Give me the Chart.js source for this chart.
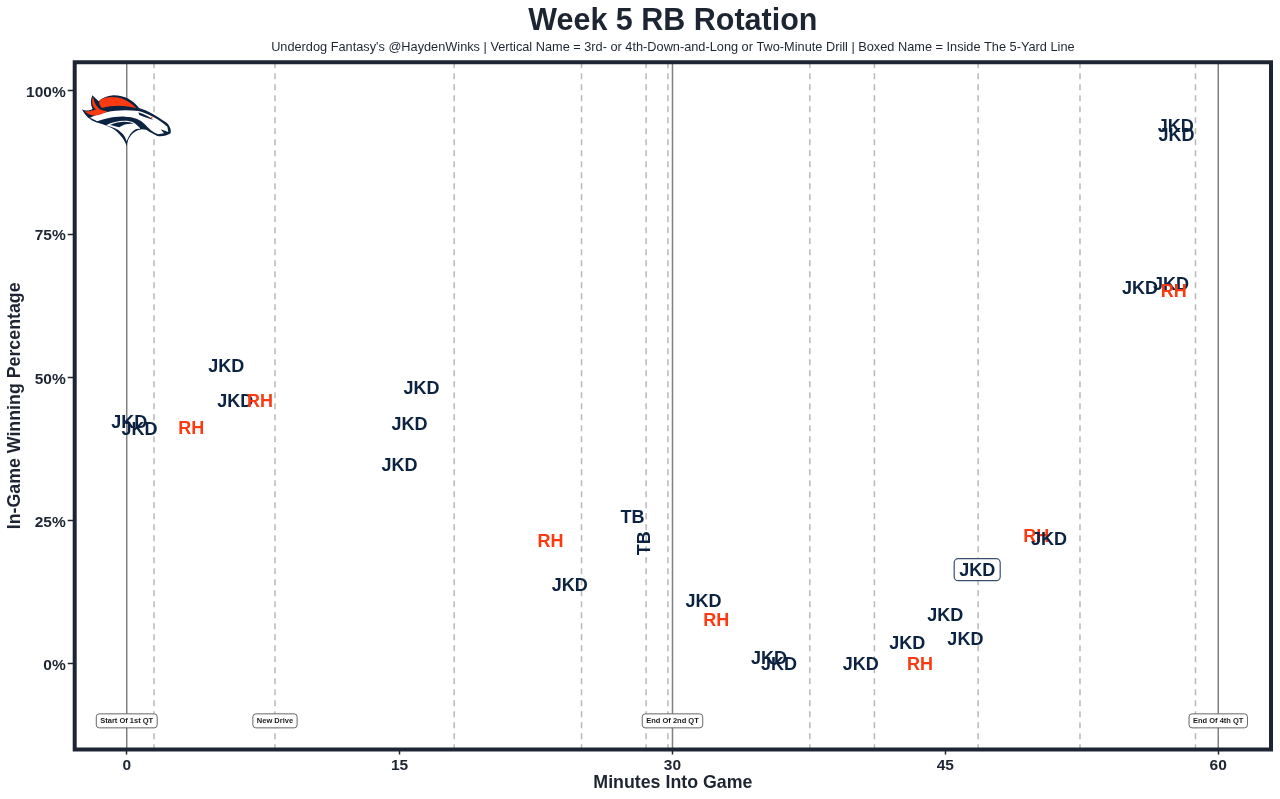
<!DOCTYPE html>
<html>
<head>
<meta charset="utf-8">
<title>Week 5 RB Rotation</title>
<script src="https://cdn.jsdelivr.net/npm/chart.js@4"></script>
<style>
  html, body { margin: 0; padding: 0; background: #fff; }
  canvas { display: block; }
</style>
</head>
<body>
<canvas id="grafico" width="1280" height="799"></canvas>
<script>
// one entry per carry
const rushers = ["JKD","JKD","RH","JKD","JKD","RH","JKD","JKD","JKD","RH","TB","TB","JKD","JKD","RH","JKD","JKD","JKD","JKD","RH","JKD","JKD","JKD","RH","JKD","JKD","JKD","RH","JKD","JKD"];
const minutes = [0.14,0.7,3.55,5.47,5.96,7.33,16.2,15.55,15,23.3,27.8,28.4,24.35,31.7,32.4,35.3,35.85,40.35,42.9,43.6,45,46.1,46.75,50,50.7,55.7,57.4,57.55,57.66,57.7];
const winPct = [42.3,41.1,41.3,52.1,46,46,48.25,42,34.8,21.5,25.7,21,13.8,11,7.7,1,0,0,3.7,0,8.6,4.4,16.4,22.4,21.9,65.7,66.3,65.2,93.9,92.4];
const verticalNames = [11]; // 3rd/4th and long or two-minute drill
const boxedNames = [22];    // inside the 5

const driveStarts = [1.5,8.15,18,25,28.55,29.75,37.55,41.1,46.8,52.4,58.75];
const quarterLines = [0,30,60];
const noteTexts = ["Start Of 1st QT","New Drive","End Of 2nd QT","End Of 4th QT"];
const noteMinutes = [0,8.15,30,60];
const noteLevel = -10;

const xTicks = [0,15,30,45,60];
const yTicks = [0,25,50,75,100];

const colores = { JKD: "#0b2241", TB: "#0b2241", RH: "#fb3a12" };
const INK = "#1e2532";
const FUENTE = '"Liberation Sans", Arial, sans-serif';

const puntos = minutes.map((m, i) => ({ x: m, y: winPct[i] }));

// Broncos logo, hand traced
function dibujarLogo(ctx) {
    ctx.save();
    ctx.translate(70, 80);
    ctx.scale(1/3, 1/3);
    ctx.fillStyle = "#0b2241";
    ctx.fill(new Path2D("M36 88C46 108 60 120 78 127C105 135 132 142 150 165C162 178 167 188 170 199C172 180 180 165 195 155C205 148 218 145 230 150C240 157 250 162 262 168C275 170 290 168 302 160C304 150 300 136 288 127C262 110 236 92 207 84C190 62 165 46 130 46C110 48 96 54 86 64L67 46C61 60 61 75 68 87C55 93 45 93 36 88Z"));
    ctx.fillStyle = "#fff";
    // neck sweep and face
    ctx.fill(new Path2D("M60 113C100 94 150 86 205 93C228 98 262 114 292 140L295 156L272 148L282 160L264 163C248 156 236 146 226 134C212 118 190 110 165 110C130 108 100 118 82 124Z"));
    // under neck
    ctx.fill(new Path2D("M108 136C135 122 170 118 192 128C205 138 218 150 205 146C190 146 178 163 170 184C165 165 150 146 108 136Z"));
    ctx.fillStyle = "#0b2241";
    ctx.fill(new Path2D("M120 135C145 124 175 122 192 132C180 130 160 132 148 142C140 140 130 137 120 135Z"));
    ctx.fill(new Path2D("M205 97C222 102 238 110 250 120C235 115 220 110 208 105Z"));
    ctx.fillStyle = "#fb3a12";
    ctx.fill(new Path2D("M90 60C110 48 160 42 199 85C170 76 130 74 96 84C88 76 85 68 90 60Z"));
    ctx.fill(new Path2D("M69 50C63 66 67 80 78 88C66 93 56 95 44 94C58 108 80 114 112 94C100 92 88 90 84 82C76 76 72 64 69 50Z"));
    ctx.beginPath();
    ctx.arc(245, 113, 2.5, 0, Math.PI * 2);
    ctx.fill();
    ctx.restore();
}

const marcas = {
    id: "marcas",
    beforeDatasetsDraw(chart) {
        const { ctx, chartArea, scales } = chart;
        ctx.save();
        ctx.lineWidth = 1.5;
        ctx.strokeStyle = "#b8b8b8";
        ctx.setLineDash([6, 5]);
        for (let m of driveStarts) {
            const px = scales.x.getPixelForValue(m);
            ctx.beginPath();
            ctx.moveTo(px, chartArea.top);
            ctx.lineTo(px, chartArea.bottom);
            ctx.stroke();
        }
        ctx.setLineDash([]);
        ctx.strokeStyle = "#808080";
        for (let m of quarterLines) {
            const px = scales.x.getPixelForValue(m);
            ctx.beginPath();
            ctx.moveTo(px, chartArea.top);
            ctx.lineTo(px, chartArea.bottom);
            ctx.stroke();
        }
        ctx.restore();
    },
    afterDatasetsDraw(chart) {
        const { ctx, chartArea, scales } = chart;
        const meta = chart.getDatasetMeta(0);
        ctx.save();
        ctx.textAlign = "center";
        ctx.textBaseline = "middle";

        // notes at the bottom
        ctx.font = "bold 7.5px " + FUENTE;
        noteTexts.forEach((txt, i) => {
            const px = scales.x.getPixelForValue(noteMinutes[i]);
            const py = scales.y.getPixelForValue(noteLevel);
            const w = ctx.measureText(txt).width + 8;
            ctx.beginPath();
            ctx.roundRect(px - w / 2, py - 7, w, 14, 3);
            ctx.fillStyle = "#fff";
            ctx.fill();
            ctx.lineWidth = 1;
            ctx.strokeStyle = "#666";
            ctx.stroke();
            ctx.fillStyle = "#1a1a1a";
            ctx.fillText(txt, px, py + 0.5);
        });

        // names
        ctx.font = "bold 18px " + FUENTE;
        rushers.forEach((nombre, i) => {
            const { x, y } = meta.data[i];
            if (boxedNames.includes(i)) {
                ctx.beginPath();
                ctx.roundRect(x - 23, y - 11, 46, 22, 4);
                ctx.fillStyle = "#fff";
                ctx.fill();
                ctx.lineWidth = 1.2;
                ctx.strokeStyle = "#3a4f6e";
                ctx.stroke();
            }
            ctx.fillStyle = colores[nombre];
            ctx.save();
            ctx.translate(x, y);
            if (verticalNames.includes(i)) ctx.rotate(-Math.PI / 2);
            ctx.fillText(nombre, 0, 1.5);
            ctx.restore();
        });

        dibujarLogo(ctx);

        ctx.lineWidth = 4;
        ctx.strokeStyle = INK;
        ctx.strokeRect(chartArea.left, chartArea.top, chartArea.width, chartArea.height);
        ctx.restore();
    }
};

new Chart("grafico", {
    type: "scatter",
    data: {
        datasets: [{
            data: puntos,
            pointRadius: 0,
            pointHoverRadius: 0
        }]
    },
    plugins: [marcas],
    options: {
        responsive: false,
        animation: false,
        layout: { padding: { right: 9 } },
        plugins: {
            legend: { display: false },
            tooltip: { enabled: false },
            title: {
                display: true,
                text: "Week 5 RB Rotation",
                color: INK,
                fullSize: false,
                font: { family: FUENTE, size: 30.5, weight: "bold", lineHeight: 1.1 },
                padding: { top: 4.5, bottom: 0 }
            },
            subtitle: {
                display: true,
                text: "Underdog Fantasy's @HaydenWinks | Vertical Name = 3rd- or 4th-Down-and-Long or Two-Minute Drill | Boxed Name = Inside The 5-Yard Line",
                color: INK,
                fullSize: false,
                font: { family: FUENTE, size: 12.75, lineHeight: 1.2 },
                padding: { top: 2.2, bottom: 6.7 }
            }
        },
        scales: {
            x: {
                type: "linear",
                min: -2.86,
                max: 62.9,
                afterFit(scale) { scale.height = 49.5; },
                afterBuildTicks(scale) { scale.ticks = xTicks.map(v => ({ value: v })); },
                grid: { drawOnChartArea: false, tickLength: 5, tickColor: INK, tickWidth: 1.5 },
                border: { display: false },
                ticks: {
                    color: INK,
                    padding: 2,
                    maxRotation: 0,
                    font: { family: FUENTE, size: 15.5, weight: "bold" }
                },
                title: {
                    display: true,
                    text: "Minutes Into Game",
                    color: INK,
                    padding: { top: 0, bottom: 5 },
                    font: { family: FUENTE, size: 17.8, weight: "bold" }
                }
            },
            y: {
                type: "linear",
                min: -15,
                max: 105,
                afterFit(scale) { scale.width = 74.7; },
                afterBuildTicks(scale) { scale.ticks = yTicks.map(v => ({ value: v })); },
                grid: { drawOnChartArea: false, tickLength: 7, tickColor: INK, tickWidth: 1.5 },
                border: { display: false },
                ticks: {
                    color: INK,
                    padding: 2,
                    labelOffset: 2,
                    font: { family: FUENTE, size: 15.5, weight: "bold" },
                    callback: v => v + "%"
                },
                title: {
                    display: true,
                    text: "In-Game Winning Percentage",
                    color: INK,
                    padding: { top: 4, bottom: 0 },
                    font: { family: FUENTE, size: 17.8, weight: "bold" }
                }
            }
        }
    }
});
</script>
</body>
</html>
